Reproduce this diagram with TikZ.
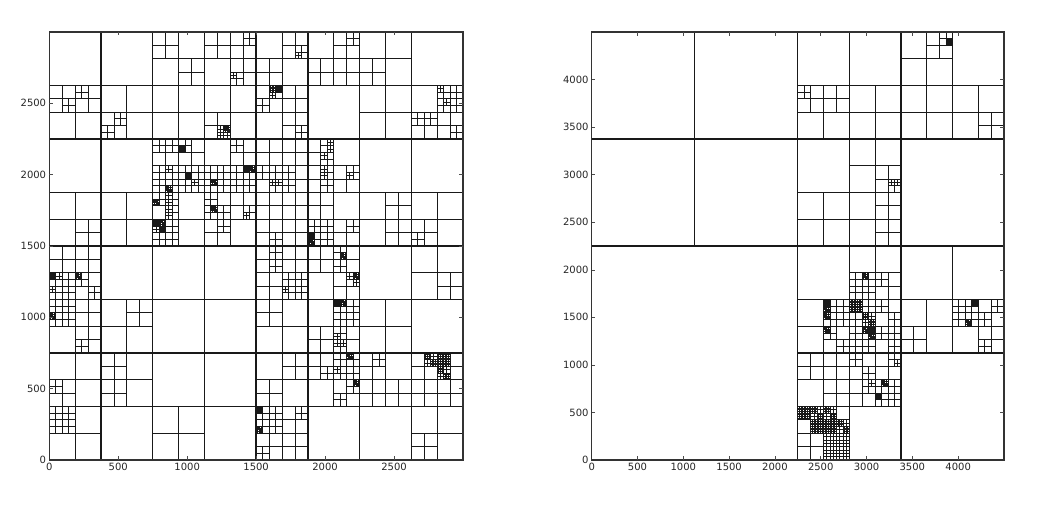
\documentclass[tikz,border=0pt]{standalone}
\usepackage{fontspec}
\setmainfont{DejaVu Sans}
\usepackage{tikz}

\tikzset{
  qline/.style={line width=0.85pt, black!90},
  qmajor/.style={line width=1.3pt, black!90},
  qframe/.style={line width=1.1pt, black!80},
  qtick/.style={line width=0.5pt, black!70},
  qlabel/.style={font=\fontsize{10}{12}\selectfont, text=black!85, inner sep=0pt},
}

% quadtree code: x = split (children TL TR BL BR), . = leaf,
% f = 4x4 grid, g = 4x4 grid with finer corners, b = 8x8 grid
\def\qtpop\qtc#1#2#3#4\qtend{\def\qtx{#1}\def\qty{#2}\def\qts{#3}\def\qtstack{#4}}
\newcommand\qtpush[3]{\edef\qtstack{\noexpand\qtc{#1}{#2}{#3}\unexpanded\expandafter{\qtstack}}}
\newcommand\qtsplit{%
  \pgfmathsetmacro\qth{\qts/2}%
  \pgfmathsetmacro\qtmx{\qtx+\qth}%
  \pgfmathsetmacro\qtmy{\qty+\qth}%
  \ifdim\qts pt>999pt\def\qtw{qmajor}\else\def\qtw{qline}\fi
  \draw[\qtw] (\qtmx,\qty) -- (\qtmx,\qty+\qts) (\qtx,\qtmy) -- (\qtx+\qts,\qtmy);%
  \qtpush{\qtmx}{\qty}{\qth}%
  \qtpush{\qtx}{\qty}{\qth}%
  \qtpush{\qtmx}{\qtmy}{\qth}%
  \qtpush{\qtx}{\qtmy}{\qth}}
\newcommand\qtgridat[4]{%
  \pgfmathsetmacro\qtd{#3/#4}%
  \pgfmathtruncatemacro\qtn{#4-1}%
  \foreach \k in {1,...,\qtn}{%
    \draw[qline] (#1+\k*\qtd,#2) -- ++(0,#3) (#1,#2+\k*\qtd) -- ++(#3,0);}}
\newcommand\qtfine{%
  \qtgridat{\qtx}{\qty}{\qts}{4}%
  \pgfmathsetmacro\qth{\qts/2}%
  \pgfmathsetmacro\qtmx{\qtx+\qth}%
  \pgfmathsetmacro\qtmy{\qty+\qth}%
  \qtgridat{\qtx}{\qtmy}{\qth}{4}%
  \qtgridat{\qtmx}{\qty}{\qth}{4}}
\def\qtread#1{%
  \ifx#1\relax\else
    \ifx\qtstack\empty\else
      \expandafter\qtpop\qtstack\qtend
      \ifx#1x\qtsplit\fi
      \ifx#1f\qtgridat{\qtx}{\qty}{\qts}{4}\fi
      \ifx#1g\qtfine\fi
      \ifx#1b\qtgridat{\qtx}{\qty}{\qts}{8}\fi
    \fi
    \expandafter\qtread
  \fi}
\newcommand\qtree[4]{\def\qtstack{\qtc{#1}{#2}{#3}}\qtread#4\relax}

\begin{document}
\begin{tikzpicture}[x=1pt,y=1pt]
\useasboundingbox (0,0) rectangle (1047,511);

% left plot: 3000 x 3000, cells of 375
\begin{scope}[shift={(49.3pt,51pt)}, x=0.1379pt, y=0.14267pt]
  \foreach \i in {375,750,...,2625}
    \draw[qmajor] (\i,0) -- (\i,3000) (0,\i) -- (3000,\i);
  % row 7
  \qtree{750}{2625}{375}{x x.... . . x....}
  \qtree{1125}{2625}{375}{x x.... x . x.... . . . x . . x x.... . . . .}
  \qtree{1500}{2625}{375}{x . x . . . x . . x.... . x.... .}
  \qtree{1875}{2625}{375}{x . x . x.... . . x.... x....}
  \qtree{2250}{2625}{375}{x . . x.... .}
  % row 6
  \qtree{0}{2250}{375}{x x . . . x.... x x.... . . . . .}
  \qtree{375}{2250}{375}{x . . x . x.... x.... . .}
  \qtree{750}{2250}{375}{x....}
  \qtree{1125}{2250}{375}{x . . x . . . x x.... g x.... x.... .}
  \qtree{1500}{2250}{375}{x x . x f b x.... . x.... . x.... . x . . . x....}
  \qtree{2250}{2250}{375}{x....}
  \qtree{2625}{2250}{375}{x . x x x.... . . . x.... x . x.... . . x.... x x.... x.... . . x . . . x....}
  % row 5
  \qtree{750}{1875}{375}{x x x.... x.... . . x x . . b . . . . x x.... x x.... . . . x.... x . . g . x x . . . b x.... x.... x x.... . . .}
  \qtree{1125}{1875}{375}{x . x x.... . . . x x.... x.... x . g . . x.... x x.... x b g . . x.... x....}
  \qtree{1500}{1875}{375}{x x.... x.... x x.... x.... . x x.... x.... . . x x.... . x.... .}
  \qtree{1875}{1875}{375}{x x . x . x.... . x.... . x x.... . . . . x . x x.... . x.... . . x.... x . x . . x.... . . .}
  % row 4
  \qtree{0}{1500}{375}{x . . . x....}
  \qtree{375}{1500}{375}{x....}
  \qtree{750}{1500}{375}{x x x . . g . x x.... . x.... . . x x.... . x.... . . x x b g x.... b x.... x.... x.... .}
  \qtree{1125}{1500}{375}{x x x.... . x . g . . x.... x . . . x . . x.... . x . x.... . . .}
  \qtree{1500}{1500}{375}{x x.... x.... x . . . x.... x....}
  \qtree{1875}{1500}{375}{x x.... . x x.... x.... x b . g . x.... x . x.... . .}
  \qtree{2250}{1500}{375}{x . x.... . x....}
  \qtree{2625}{1500}{375}{x . . x . . x.... . .}
  % row 3
  \qtree{0}{1125}{375}{x x.... x.... x x b x.... . . x.... x x.... . . . x.... x x g . . . . . x....}
  \qtree{1500}{1125}{375}{x x . x.... . x.... x.... x.... x x.... x.... x x.... . . . x....}
  \qtree{1875}{1125}{375}{x x.... x x . . . g . x.... . . x . x x.... g . x.... . .}
  \qtree{2625}{1125}{375}{x . . . x....}
  % row 2
  \qtree{0}{750}{375}{x x x.... x.... x g . . . x.... x.... . x . . x.... .}
  \qtree{375}{750}{375}{x . x.... . .}
  \qtree{1500}{750}{375}{x x.... . . .}
  \qtree{1875}{750}{375}{x . x x b g . . x.... x.... x.... x.... x x . . x.... . . x x.... x.... . . .}
  \qtree{2250}{750}{375}{x....}
  % row 1
  \qtree{0}{375}{375}{x . . x x.... . . . .}
  \qtree{375}{375}{375}{x x.... . x.... .}
  \qtree{1500}{375}{375}{x . x.... x.... .}
  \qtree{1875}{375}{375}{x x . . . x.... x x.... x g . . . x x.... . . . x.... . x . x . g . . x.... .}
  \qtree{2250}{375}{375}{x x . x.... . . . x.... x....}
  \qtree{2625}{375}{375}{x x . g . . x b . g . x.... x.... x x b g . g x.... x . . b . x.... x x.... x . g b . x . . g . x b . . . x x.... x g b . g x.... .}
  % row 0
  \qtree{0}{0}{375}{x f . . .}
  \qtree{750}{0}{375}{x....}
  \qtree{1500}{0}{375}{x x x b . . . x.... x . . g . x.... x . x.... . . x . . x.... . x....}
  \qtree{2625}{0}{375}{x . . x.... .}
  \draw[qframe] (0,0) rectangle (3000,3000);
  % ticks and labels
  \foreach \t in {500,1000,...,2500} {
    \draw[qtick] (\t,0) -- ++(0,3.5pt) (\t,3000) -- ++(0,-3.5pt);
    \draw[qtick] (0,\t) -- ++(3.5pt,0) (3000,\t) -- ++(-3.5pt,0);
  }
  \foreach \t in {0,500,...,2500} {
    \node[qlabel, anchor=north] (lx\t) at ([yshift=-3pt]\t,0) {\t};
    \node[qlabel, anchor=east] (ly\t) at ([xshift=-3pt]0,\t) {\t};
  }
\end{scope}

% right plot: 4500 x 4500
\begin{scope}[shift={(591.7pt,51pt)}, x=0.09162pt, y=0.09511pt]
  \qtree{0}{0}{4500}{x x.... . . .}
  % upper right quarter
  \qtree{2250}{2250}{2250}{x....}
  \qtree{2250}{3375}{1125}{x . . x x x.... . . . x.... . . x....}
  \qtree{3375}{3375}{1125}{x x . x . x . . . b . . . . . x.... x . . . x....}
  \qtree{2250}{2250}{1125}{x . x . . . x . . . x x.... x.... . . x.... x . x.... . x....}
  % lower right quarter
  \qtree{2250}{0}{2250}{x....}
  \qtree{2250}{1125}{1125}{x . x . . x x.... x g . . . x.... x.... x x.... . . . x . x x b . g . x.... x g . . . x.... . x x g . . . . . x.... x x b x.... x.... g x x.... . . x.... x x.... x g b . g x.... x.... x x.... x.... . x....}
  \qtree{3375}{1125}{1125}{x . . x . . x.... . x x x.... x . b . . x.... x . . g . x . x.... x.... . . x . . x.... .}
  \qtree{2250}{0}{1125}{x x x.... x.... . x.... x x x.... . . x.... x . x . . . x.... . . x . x . x.... . . . . x x . g . . x.... x b . . . x.... x x b g . b x g . b g x.... b . x . x g . g . . . x x b b g . x b . g b x.... x g . . . x . x.... . .}
  \draw[qframe] (0,0) rectangle (4500,4500);
  % ticks and labels
  \foreach \t in {500,1000,...,4000} {
    \draw[qtick] (\t,0) -- ++(0,3.5pt) (\t,4500) -- ++(0,-3.5pt);
    \draw[qtick] (0,\t) -- ++(3.5pt,0) (4500,\t) -- ++(-3.5pt,0);
  }
  \foreach \t in {0,500,...,4000} {
    \node[qlabel, anchor=north] (rx\t) at ([yshift=-3pt]\t,0) {\t};
    \node[qlabel, anchor=east] (ry\t) at ([xshift=-3pt]0,\t) {\t};
  }
\end{scope}
\end{tikzpicture}
\end{document}
